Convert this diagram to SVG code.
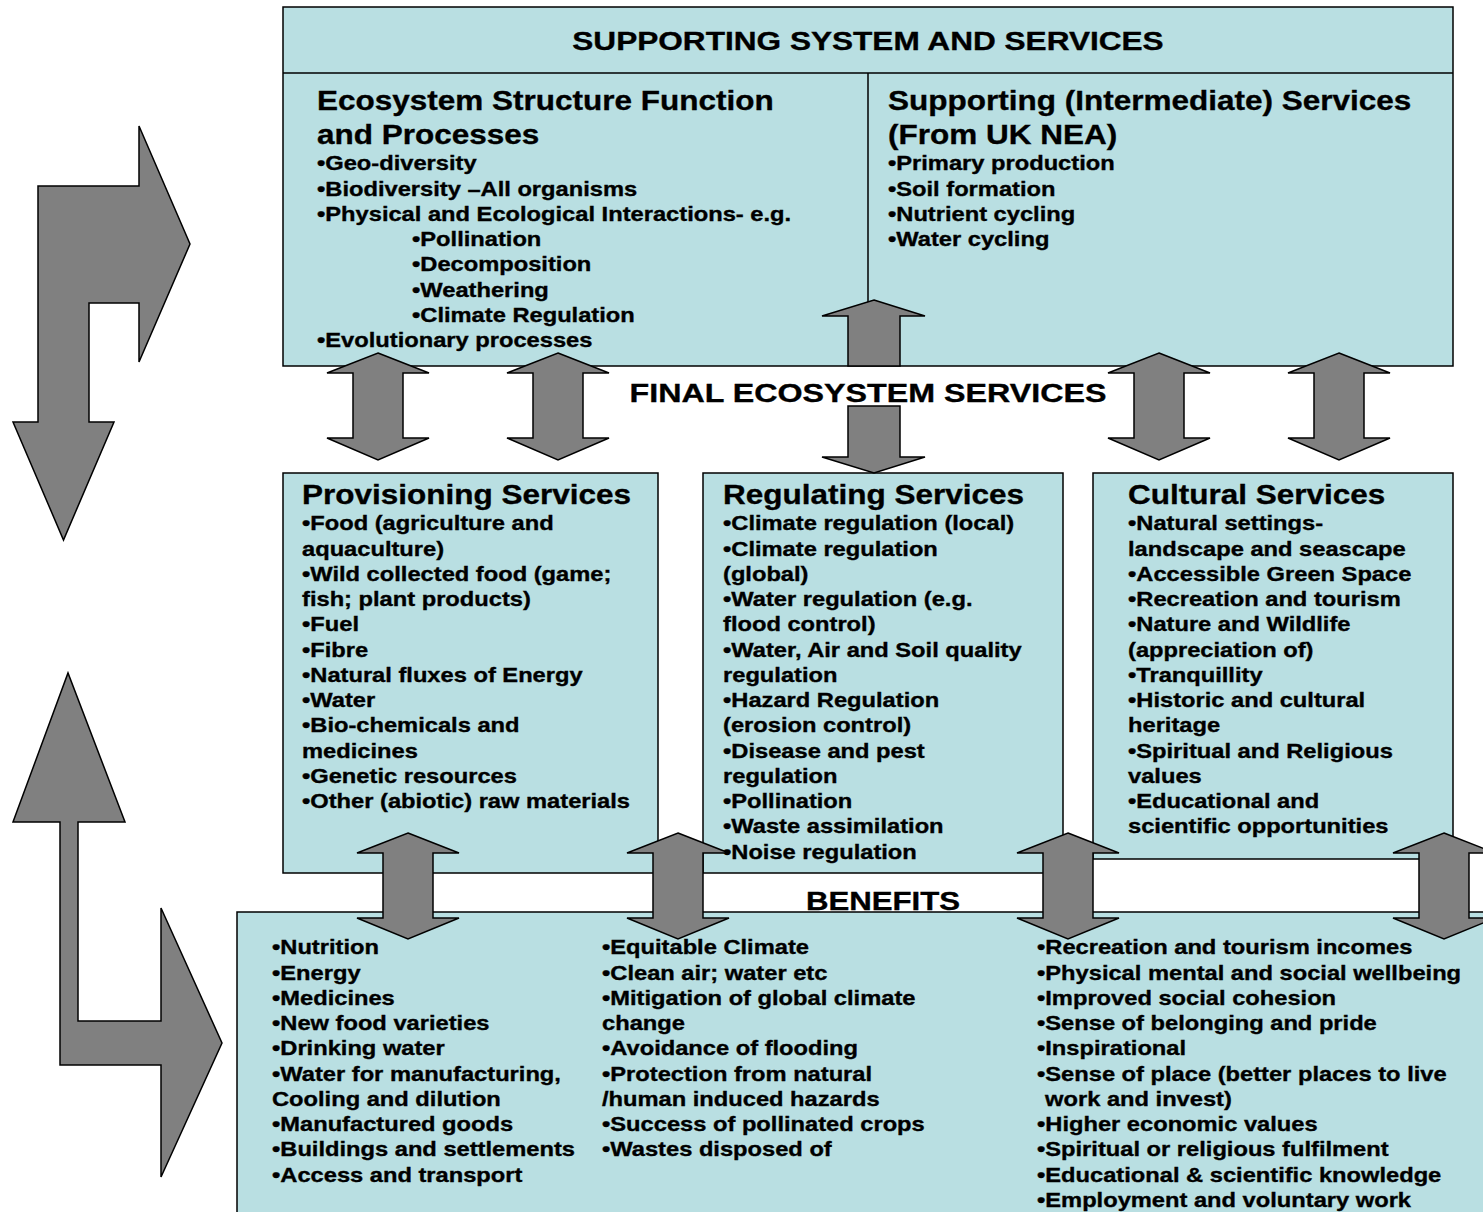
<svg xmlns="http://www.w3.org/2000/svg" width="1483" height="1212" viewBox="0 0 1483 1212">
<style>
.box{fill:#b9dfe2;stroke:#000;stroke-width:1.5}
.ln{stroke:#000;stroke-width:1.5;fill:none}
.arr{fill:#808080;stroke:#000;stroke-width:1.5;stroke-linejoin:miter}
text{font-family:"Liberation Sans",Arial,sans-serif;font-weight:bold;fill:#000;stroke:#000;stroke-width:0.35}
.T{font-size:26px}
.h{font-size:28px}
.b{font-size:20px}
</style>
<rect width="1483" height="1212" fill="#fff"/>

<g id="supporting">
<rect class="box" x="283" y="7" width="1170" height="359"/>
<line class="ln" x1="283" y1="73" x2="1453" y2="73"/>
<line class="ln" x1="868" y1="73" x2="868" y2="366"/>
<g transform="translate(868,50) scale(1.215,1)"><text class="T" x="0" y="0" text-anchor="middle">SUPPORTING SYSTEM AND SERVICES</text></g>
<g transform="translate(317,0) scale(1.125,1)">
<text class="h" x="0" y="110">Ecosystem Structure Function</text>
<text class="h" x="0" y="144">and Processes</text>
</g>
<g transform="translate(317,0) scale(1.185,1)">
<text class="b" x="0" y="170.5">•Geo-diversity</text>
<text class="b" x="0" y="195.75">•Biodiversity –All organisms</text>
<text class="b" x="0" y="221">•Physical and Ecological Interactions- e.g.</text>
<text class="b" x="80.2" y="246.25">•Pollination</text>
<text class="b" x="80.2" y="271.5">•Decomposition</text>
<text class="b" x="80.2" y="296.75">•Weathering</text>
<text class="b" x="80.2" y="322">•Climate Regulation</text>
<text class="b" x="0" y="347.25">•Evolutionary processes</text>
</g>
<g transform="translate(888,0) scale(1.125,1)">
<text class="h" x="0" y="110">Supporting (Intermediate) Services</text>
<text class="h" x="0" y="144">(From UK NEA)</text>
</g>
<g transform="translate(888,0) scale(1.185,1)">
<text class="b" x="0" y="170.5">•Primary production</text>
<text class="b" x="0" y="195.75">•Soil formation</text>
<text class="b" x="0" y="221">•Nutrient cycling</text>
<text class="b" x="0" y="246.25">•Water cycling</text>
</g>
</g>

<g id="final-label">
<g transform="translate(868,401.5) scale(1.24,1)"><text class="T" x="0" y="0" text-anchor="middle">FINAL ECOSYSTEM SERVICES</text></g>
</g>

<g id="provisioning">
<rect class="box" x="283" y="473" width="375" height="400"/>
<g transform="translate(302,0) scale(1.125,1)"><text class="h" x="0" y="504">Provisioning Services</text></g>
<g transform="translate(302,0) scale(1.185,1)">
<text class="b" x="0" y="530.5">•Food (agriculture and</text>
<text class="b" x="0" y="555.75">aquaculture)</text>
<text class="b" x="0" y="581">•Wild collected food (game;</text>
<text class="b" x="0" y="606.25">fish; plant products)</text>
<text class="b" x="0" y="631.5">•Fuel</text>
<text class="b" x="0" y="656.75">•Fibre</text>
<text class="b" x="0" y="682">•Natural fluxes of Energy</text>
<text class="b" x="0" y="707.25">•Water</text>
<text class="b" x="0" y="732.5">•Bio-chemicals and</text>
<text class="b" x="0" y="757.75">medicines</text>
<text class="b" x="0" y="783">•Genetic resources</text>
<text class="b" x="0" y="808.25">•Other (abiotic) raw materials</text>
</g>
</g>

<g id="regulating">
<rect class="box" x="703" y="473" width="360" height="400"/>
<g transform="translate(723,0) scale(1.125,1)"><text class="h" x="0" y="504">Regulating Services</text></g>
<g transform="translate(723,0) scale(1.185,1)">
<text class="b" x="0" y="530.5">•Climate regulation (local)</text>
<text class="b" x="0" y="555.75">•Climate regulation</text>
<text class="b" x="0" y="581">(global)</text>
<text class="b" x="0" y="606.25">•Water regulation (e.g.</text>
<text class="b" x="0" y="631.5">flood control)</text>
<text class="b" x="0" y="656.75">•Water, Air and Soil quality</text>
<text class="b" x="0" y="682">regulation</text>
<text class="b" x="0" y="707.25">•Hazard Regulation</text>
<text class="b" x="0" y="732.5">(erosion control)</text>
<text class="b" x="0" y="757.75">•Disease and pest</text>
<text class="b" x="0" y="783">regulation</text>
<text class="b" x="0" y="808.25">•Pollination</text>
<text class="b" x="0" y="833.5">•Waste assimilation</text>
<text class="b" x="0" y="858.75">•Noise regulation</text>
</g>
</g>

<g id="cultural">
<rect class="box" x="1093" y="473" width="360" height="386"/>
<g transform="translate(1128,0) scale(1.125,1)"><text class="h" x="0" y="504">Cultural Services</text></g>
<g transform="translate(1128,0) scale(1.185,1)">
<text class="b" x="0" y="530.5">•Natural settings-</text>
<text class="b" x="0" y="555.75">landscape and seascape</text>
<text class="b" x="0" y="581">•Accessible Green Space</text>
<text class="b" x="0" y="606.25">•Recreation and tourism</text>
<text class="b" x="0" y="631.5">•Nature and Wildlife</text>
<text class="b" x="0" y="656.75">(appreciation of)</text>
<text class="b" x="0" y="682">•Tranquillity</text>
<text class="b" x="0" y="707.25">•Historic and cultural</text>
<text class="b" x="0" y="732.5">heritage</text>
<text class="b" x="0" y="757.75">•Spiritual and Religious</text>
<text class="b" x="0" y="783">values</text>
<text class="b" x="0" y="808.25">•Educational and</text>
<text class="b" x="0" y="833.5">scientific opportunities</text>
</g>
</g>

<g id="benefits">
<rect class="box" x="237" y="912" width="1270" height="320"/>
<g transform="translate(883,909.5) scale(1.2,1)"><text class="T" x="0" y="0" text-anchor="middle">BENEFITS</text></g>
<g transform="translate(272,0) scale(1.185,1)">
<text class="b" x="0" y="954.5">•Nutrition</text>
<text class="b" x="0" y="979.75">•Energy</text>
<text class="b" x="0" y="1005">•Medicines</text>
<text class="b" x="0" y="1030.25">•New food varieties</text>
<text class="b" x="0" y="1055.5">•Drinking water</text>
<text class="b" x="0" y="1080.75">•Water for manufacturing,</text>
<text class="b" x="0" y="1106">Cooling and dilution</text>
<text class="b" x="0" y="1131.25">•Manufactured goods</text>
<text class="b" x="0" y="1156.5">•Buildings and settlements</text>
<text class="b" x="0" y="1181.75">•Access and transport</text>
</g>
<g transform="translate(602,0) scale(1.185,1)">
<text class="b" x="0" y="954.5">•Equitable Climate</text>
<text class="b" x="0" y="979.75">•Clean air; water etc</text>
<text class="b" x="0" y="1005">•Mitigation of global climate</text>
<text class="b" x="0" y="1030.25">change</text>
<text class="b" x="0" y="1055.5">•Avoidance of flooding</text>
<text class="b" x="0" y="1080.75">•Protection from natural</text>
<text class="b" x="0" y="1106">/human induced hazards</text>
<text class="b" x="0" y="1131.25">•Success of pollinated crops</text>
<text class="b" x="0" y="1156.5">•Wastes disposed of</text>
</g>
<g transform="translate(1037,0) scale(1.185,1)">
<text class="b" x="0" y="954.5">•Recreation and tourism incomes</text>
<text class="b" x="0" y="979.75">•Physical mental and social wellbeing</text>
<text class="b" x="0" y="1005">•Improved social cohesion</text>
<text class="b" x="0" y="1030.25">•Sense of belonging and pride</text>
<text class="b" x="0" y="1055.5">•Inspirational</text>
<text class="b" x="0" y="1080.75">•Sense of place (better places to live</text>
<text class="b" x="6.8" y="1106">work and invest)</text>
<text class="b" x="0" y="1131.25">•Higher economic values</text>
<text class="b" x="0" y="1156.5">•Spiritual or religious fulfilment</text>
<text class="b" x="0" y="1181.75">•Educational &amp; scientific knowledge</text>
<text class="b" x="0" y="1207">•Employment and voluntary work</text>
</g>
</g>

<g id="connectors">
<polygon class="arr" points="378,353 429,373 403,373 403,438 429,438 378,460 327,438 353,438 353,373 327,373"/>
<polygon class="arr" points="558,353 609,373 583,373 583,438 609,438 558,460 507,438 533,438 533,373 507,373"/>
<polygon class="arr" points="1159,353 1210,373 1184,373 1184,438 1210,438 1159,460 1108,438 1134,438 1134,373 1108,373"/>
<polygon class="arr" points="1339,353 1390,373 1364,373 1364,438 1390,438 1339,460 1288,438 1314,438 1314,373 1288,373"/>
<polygon class="arr" points="874,300 925,316 900,316 900,366 848,366 848,316 822,316"/>
<polygon class="arr" points="848,406 900,406 900,457 925,457 874,473 822,457 848,457"/>
<polygon class="arr" points="408,833 459,853 433,853 433,918 459,918 408,939 357,918 383,918 383,853 357,853"/>
<polygon class="arr" points="678,833 729,853 703,853 703,918 729,918 678,939 627,918 653,918 653,853 627,853"/>
<polygon class="arr" points="1068,833 1119,853 1093,853 1093,918 1119,918 1068,939 1017,918 1043,918 1043,853 1017,853"/>
<polygon class="arr" points="1444,833 1495,853 1469,853 1469,918 1495,918 1444,939 1393,918 1419,918 1419,853 1393,853"/>
<polygon class="arr" points="38,186 139,186 139,126 190,244 139,362 139,303 89,303 89,422 114,422 63.5,540 13,422 38,422"/>
<polygon class="arr" points="60,822 13,822 68,673 125,822 78,822 78,1021 161,1021 161,908 222,1043 161,1177 161,1065 60,1065"/>
</g>
</svg>
